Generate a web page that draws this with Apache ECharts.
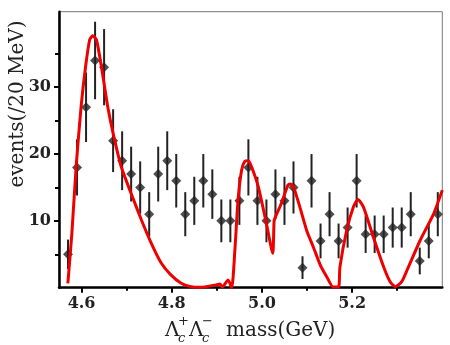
<!DOCTYPE html>
<html>
<head>
<meta charset="utf-8">
<script src="https://cdn.jsdelivr.net/npm/echarts@6/dist/echarts.min.js"></script>
<style>html,body{margin:0;padding:0;background:#fff}#c{width:450px;height:345px}</style>
</head>
<body>
<div id="c"></div>
<script>
// Bin centres (GeV), 20 MeV bins
var binCenters = [4.57,4.59,4.61,4.63,4.65,4.67,4.69,4.71,4.73,4.75,4.77,4.79,4.81,4.83,4.85,4.87,4.89,4.91,4.93,4.95,4.97,4.99,5.01,5.03,5.05,5.07,5.09,5.11,5.13,5.15,5.17,5.19,5.21,5.23,5.25,5.27,5.29,5.31,5.33,5.35,5.37,5.39];
var counts = [5,18,27,34,33,22,19,17,15,11,17,19,16,11,13,16,14,10,10,13,18,13,10,14,13,15,3,16,7,11,7,9,16,8,8,8,9,9,11,4,7,11];
var errors = [2.2,4.2,5.2,5.8,5.7,4.7,4.4,4.1,3.9,3.3,4.1,4.4,4.0,3.3,3.6,4.0,3.7,3.2,3.2,3.6,4.2,3.6,3.2,3.7,3.6,3.9,1.7,4.0,2.6,3.3,2.6,3.0,4.0,2.8,2.8,2.8,3.0,3.0,3.3,2.0,2.6,3.3];
// Fit curve
var fitX = [4.5696,4.5785,4.588,4.599,4.609,4.618,4.625,4.633,4.644,4.658,4.670,4.688,4.710,4.733,4.755,4.777,4.797,4.82,4.84,4.86,4.88,4.90,4.907,4.912,4.925,4.933,4.94,4.947,4.955,4.962,4.970,4.977,4.992,5.010,5.024,5.027,5.030,5.043,5.058,5.064,5.070,5.084,5.100,5.114,5.130,5.144,5.158,5.170,5.173,5.188,5.203,5.213,5.225,5.247,5.270,5.285,5.296,5.310,5.322,5.351,5.381,5.400];
var fitY = [0.66,8.1,18.1,27.1,33.1,37.1,37.7,37.1,33.1,27.1,23.1,18.1,14.1,10.1,6.6,3.65,2.0,0.7,0.2,0.05,0.2,0.45,0.55,0.1,1.15,0.0,5.6,13.1,17.6,18.9,19.0,18.1,15.1,9.6,5.15,10.0,10.6,12.6,15.4,15.5,15.1,12.1,8.4,6.1,3.3,1.6,0.1,0.1,3.1,8.6,12.1,13.2,12.1,7.6,3.1,0.8,0.15,0.9,2.65,7.1,11.1,14.6];
var xMajorTicks = [4.6,4.8,5.0,5.2];
var xMinorTicks = [4.7,4.9,5.1,5.3];
var yMajorTicks = [10,20,30];
var yMinorTicks = [5,15,25,35];

var points = binCenters.map(function(x,i){return [x,counts[i]];});
var bars = binCenters.map(function(x,i){return [x,counts[i],errors[i]];});
var fit = fitX.map(function(x,i){return [x,fitY[i]];});

var labelFont = {fontFamily:'DejaVu Serif',fontSize:16,fontWeight:'bold',color:'#222'};
var chart = echarts.init(document.getElementById('c'),null,{renderer:'canvas'});
chart.setOption({
  animation:false,
  grid:{left:59,right:7.7,top:11.7,bottom:57.3,show:true,borderColor:'#777',borderWidth:1},
  xAxis:[{
    type:'value',min:4.55,max:5.40,position:'bottom',
    axisLine:{show:true,lineStyle:{color:'#000',width:2.5}},
    axisTick:{show:true,inside:false,length:5,customValues:xMajorTicks,lineStyle:{color:'#000',width:2}},
    axisLabel:Object.assign({show:true,margin:8,customValues:xMajorTicks,formatter:function(v){return v.toFixed(1);}},labelFont),
    splitLine:{show:false}
  },{
    type:'value',min:4.55,max:5.40,position:'bottom',gridIndex:0,
    axisLine:{show:false},
    axisTick:{show:true,inside:false,length:3,customValues:xMinorTicks,lineStyle:{color:'#000',width:2}},
    axisLabel:{show:false},
    splitLine:{show:false}
  }],
  yAxis:[{
    type:'value',min:0,max:41.3,position:'left',
    axisLine:{show:true,lineStyle:{color:'#000',width:2.5}},
    axisTick:{show:true,inside:false,length:5,customValues:yMajorTicks,lineStyle:{color:'#000',width:2}},
    axisLabel:Object.assign({show:true,margin:8,customValues:yMajorTicks},labelFont),
    splitLine:{show:false}
  },{
    type:'value',min:0,max:41.3,position:'left',gridIndex:0,
    axisLine:{show:false},
    axisTick:{show:true,inside:false,length:4,customValues:yMinorTicks,lineStyle:{color:'#000',width:2}},
    axisLabel:{show:false},
    splitLine:{show:false}
  }],
  series:[{
    type:'custom',
    data:bars,
    z:2,
    renderItem:function(params,api){
      var x=api.value(0),y=api.value(1),e=api.value(2);
      var p1=api.coord([x,y-e]),p2=api.coord([x,y+e]);
      return {type:'line',shape:{x1:p1[0],y1:p1[1],x2:p2[0],y2:p2[1]},style:{stroke:'#222',lineWidth:2}};
    }
  },{
    type:'scatter',data:points,symbol:'diamond',symbolSize:[10,10],z:3,
    itemStyle:{color:'#222'}
  },{
    type:'line',data:fit,showSymbol:false,symbol:'none',smooth:0.2,clip:true,z:4,
    lineStyle:{color:'#ee0000',width:3}
  }],
  graphic:[
    {type:'text',x:18,y:104,rotation:Math.PI/2,style:{text:'events(/20 MeV)',fontFamily:'DejaVu Serif',fontSize:20,fill:'#222',align:'center',verticalAlign:'middle'}},
    {type:'text',x:165,y:331,style:{text:'Λ',fontFamily:'DejaVu Serif',fontSize:20,fill:'#222',align:'left',verticalAlign:'middle'}},
    {type:'text',x:178,y:339,style:{text:'c',fontFamily:'DejaVu Serif',fontStyle:'italic',fontSize:13,fill:'#222',align:'left',verticalAlign:'middle'}},
    {type:'text',x:178,y:322,style:{text:'+',fontFamily:'DejaVu Serif',fontSize:13,fill:'#222',align:'left',verticalAlign:'middle'}},
    {type:'text',x:189,y:331,style:{text:'Λ',fontFamily:'DejaVu Serif',fontSize:20,fill:'#222',align:'left',verticalAlign:'middle'}},
    {type:'text',x:202,y:339,style:{text:'c',fontFamily:'DejaVu Serif',fontStyle:'italic',fontSize:13,fill:'#222',align:'left',verticalAlign:'middle'}},
    {type:'text',x:202,y:322,style:{text:'−',fontFamily:'DejaVu Serif',fontSize:13,fill:'#222',align:'left',verticalAlign:'middle'}},
    {type:'text',x:226,y:331,style:{text:'mass(GeV)',fontFamily:'DejaVu Serif',fontSize:20,fill:'#222',align:'left',verticalAlign:'middle'}}
  ]
});
</script>
</body>
</html>
